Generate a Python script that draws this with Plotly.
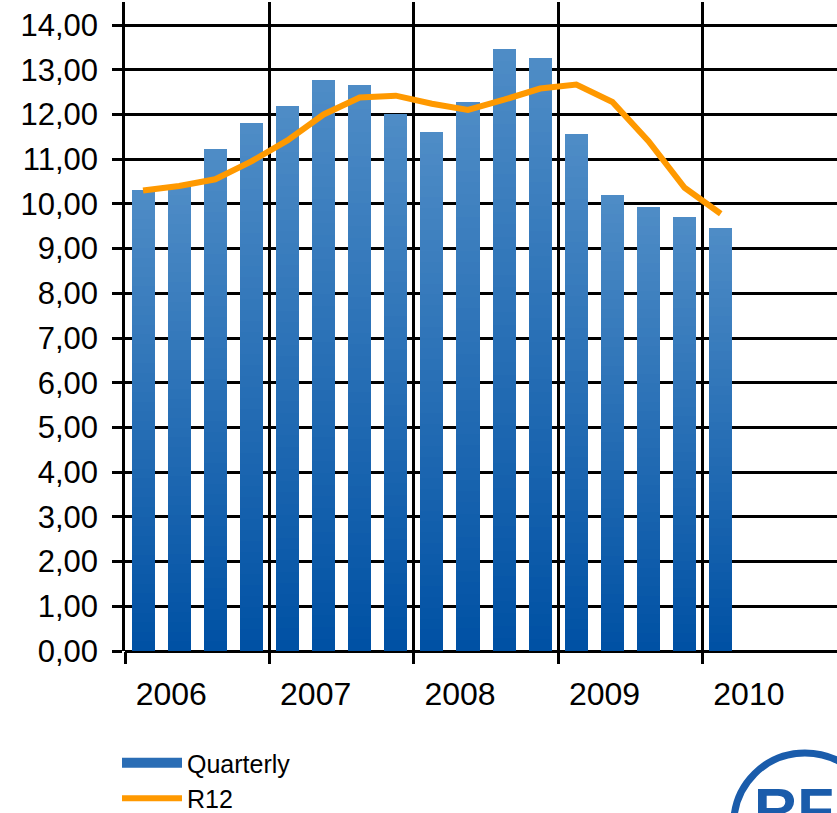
import plotly.graph_objects as go

# ---- data ----
years = ["2006", "2007", "2008", "2009", "2010"]
quarters = ["Q1", "Q2", "Q3", "Q4"]
quarterly = [10.30, 10.42, 11.22, 11.80, 12.18, 12.76, 12.66, 12.00, 11.60,
             12.27, 13.47, 13.26, 11.56, 10.20, 9.92, 9.70, 9.47]
r12 = [10.30, 10.40, 10.55, 10.95, 11.42, 12.00, 12.38, 12.42, 12.24,
       12.10, 12.33, 12.58, 12.67, 12.28, 11.40, 10.36, 9.78]
y_ticks = list(range(0, 15))

x = list(range(len(quarterly)))
# year labels sit left of each 4-quarter group's centre, as in the source
year_label_pos = [i * 4 + 0.78 for i in range(len(years))]

top_col = (0x4E, 0x8C, 0xC6)
bot_col = (0x00, 0x51, 0xA4)

fig = go.Figure()

# gradient bars: overlaid layers, lighter (full height) first, darker (shorter) later
n_layers = 48
for k in range(n_layers):
    f = 1.0 - k / n_layers
    t = k / (n_layers - 1)
    c = tuple(int(round(top_col[j] + (bot_col[j] - top_col[j]) * t)) for j in range(3))
    fig.add_trace(go.Bar(
        x=x, y=[v * f for v in quarterly], width=0.64,
        marker=dict(color="rgb(%d,%d,%d)" % c, line=dict(width=0)),
        showlegend=False, hoverinfo="skip"))

# legend entry for quarterly (wide block swatch)
fig.add_trace(go.Scatter(x=[None], y=[None], name="Quarterly", mode="lines",
                         line=dict(color="#2a6db5", width=15)))

fig.add_trace(go.Scatter(
    x=x, y=r12, mode="lines", name="R12",
    line=dict(color="#FF9900", width=6, shape="linear"),
))

fig.update_layout(
    width=837, height=813,
    margin=dict(l=125, r=0, t=2, b=162, autoexpand=False),
    plot_bgcolor="white", paper_bgcolor="white",
    barmode="overlay", bargap=0,
    separators=", ",
    font=dict(family="Liberation Sans, Arial, sans-serif", color="black"),
    showlegend=True,
    legend=dict(x=117 / 837, y=1 - 740 / 813, xref="container", yref="container",
                xanchor="left", yanchor="top",
                font=dict(size=25), tracegroupgap=0, itemwidth=60,
                bgcolor="rgba(0,0,0,0)", traceorder="normal"),
    xaxis=dict(
        range=[-0.5, 19.22],
        tickmode="array", tickvals=year_label_pos, ticktext=years,
        ticks="", showgrid=False, zeroline=False,
        tickfont=dict(size=32),
        ticklabelstandoff=21,
        showline=False,
        minor=dict(tick0=-0.5, dtick=4, showgrid=True, gridcolor="black",
                   gridwidth=2.5, ticks="outside", ticklen=12, tickwidth=2.5,
                   tickcolor="black"),
    ),
    yaxis=dict(
        range=[0, 14.515],
        tickmode="array", tickvals=y_ticks, tickformat=".2f",
        ticks="outside", ticklen=10, tickwidth=2.5, tickcolor="black",
        showgrid=True, gridcolor="black", gridwidth=2.5,
        zeroline=True, zerolinecolor="black", zerolinewidth=3,
        showline=True, linecolor="black", linewidth=2.5,
        tickfont=dict(size=31),
        ticklabelstandoff=8,
    ),
)

# partial logo at bottom right
fig.add_shape(type="circle", xref="paper", yref="paper",
              x0=0.855, x1=1.055, y0=-0.376, y1=-0.157,
              line=dict(color="#1A5CAB", width=7), layer="above")
fig.add_annotation(xref="paper", yref="paper", x=0.88, y=-0.19,
                   xanchor="left", yanchor="top", showarrow=False,
                   text="<b>RF</b>",
                   font=dict(size=60, color="#1A5CAB",
                             family="Liberation Sans, Arial, sans-serif"))

fig.write_html("out.html")
